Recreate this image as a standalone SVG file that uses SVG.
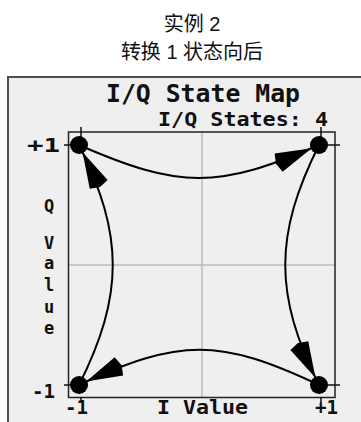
<svg xmlns="http://www.w3.org/2000/svg" width="361" height="422" viewBox="0 0 361 422">
<defs>
<style>
.hdr{font-family:"Liberation Sans","Noto Sans CJK SC",sans-serif;font-size:20px;fill:#111;text-anchor:middle}
.mono{font-family:"DejaVu Sans Mono","Liberation Mono",monospace;font-weight:bold;fill:#111}
.grid{stroke:#bdbdbd;stroke-width:1.5;fill:none}
.tick{stroke:#111;stroke-width:1.5;fill:none}
.curve{fill:none;stroke:#000;stroke-width:2;marker-end:url(#dart)}
.pt{fill:#000}
</style>
<marker id="dart" markerUnits="userSpaceOnUse" viewBox="-50 -12 50 24" markerWidth="50" markerHeight="24" refX="0" refY="0" orient="auto">
<polygon points="-8,0 -44,-10 -47,0 -44,10" fill="#000"/>
</marker>
</defs>
<rect width="361" height="422" fill="#fff"/>
<g id="header">
<text class="hdr" x="192" y="31">实例 2</text>
<text class="hdr" x="192" y="59">转换 1 状态向后</text>
</g>
<g id="screen">
<rect x="8" y="77" width="400" height="400" fill="#efefef" stroke="#4d4d4d" stroke-width="2"/>
<text class="mono" x="203" y="102" font-size="25" text-anchor="middle" textLength="194" lengthAdjust="spacingAndGlyphs">I/Q State Map</text>
<text class="mono" x="158" y="126" font-size="19" textLength="170" lengthAdjust="spacingAndGlyphs">I/Q States: 4</text>
</g>
<g id="plot">
<path class="grid" d="M202,132V397.5 M68.5,265H335"/>
<rect x="68.5" y="132" width="266.5" height="265.5" fill="none" stroke="#222" stroke-width="1.5"/>
<path class="tick" d="M81,127V137 M321,127V137 M81,397V403 M321,397V403 M64,145H72 M64,385H72 M328,145H340 M328,385H340"/>
<text class="mono" x="27" y="152" font-size="19" textLength="33" lengthAdjust="spacingAndGlyphs">+1</text>
<text class="mono" x="32" y="398" font-size="19" textLength="23" lengthAdjust="spacingAndGlyphs">-1</text>
<text class="mono" x="65" y="414" font-size="19" textLength="23" lengthAdjust="spacingAndGlyphs">-1</text>
<text class="mono" x="157" y="414" font-size="19" textLength="91" lengthAdjust="spacingAndGlyphs">I Value</text>
<text class="mono" x="315" y="414" font-size="19" textLength="23" lengthAdjust="spacingAndGlyphs">+1</text>
<g class="mono" font-size="17" text-anchor="middle">
<text x="49" y="212">Q</text>
<text x="49" y="249">V</text>
<text x="49" y="269">a</text>
<text x="49" y="291">l</text>
<text x="49" y="313">u</text>
<text x="49" y="334">e</text>
</g>
</g>
<g id="connectors">
<path class="curve" d="M79,145 C180,189 218,189 319,145"/>
<path class="curve" d="M319,145 C274,235 274,295 319,385"/>
<path class="curve" d="M319,385 C219,338 180,338 79,385"/>
<path class="curve" d="M79,385 C124,295 124,235 79,145"/>
</g>
<g id="state-ul"><circle class="pt" cx="79" cy="145" r="9"/></g>
<g id="state-ur"><circle class="pt" cx="319" cy="145" r="9"/></g>
<g id="state-ll"><circle class="pt" cx="79" cy="385" r="9"/></g>
<g id="state-lr"><circle class="pt" cx="319" cy="385" r="9"/></g>
</svg>
